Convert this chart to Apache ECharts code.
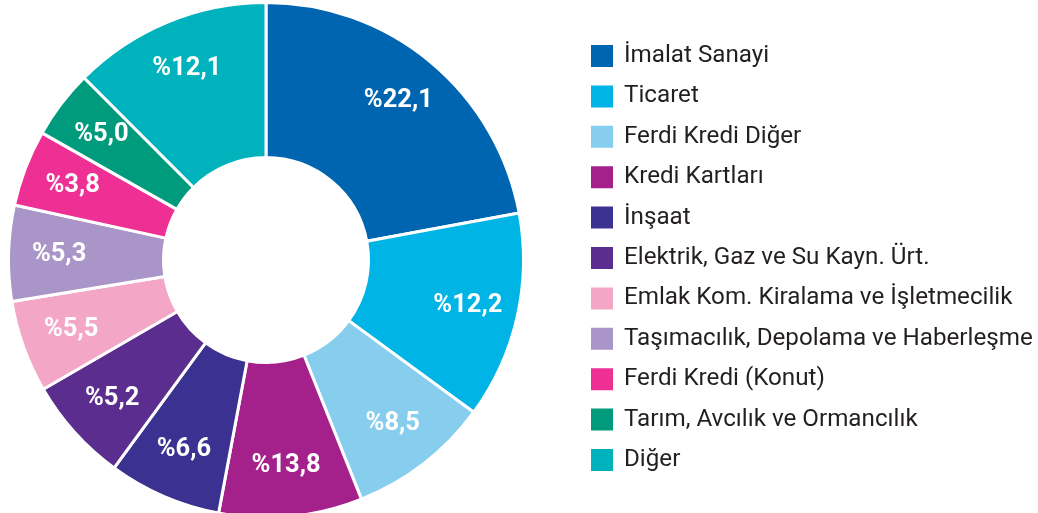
<!DOCTYPE html>
<html>
<head>
<meta charset="utf-8">
<script src="https://cdn.jsdelivr.net/npm/echarts@6/dist/echarts.min.js"></script>
<style>
html,body{margin:0;padding:0;background:#fff;}
#chart{width:1038px;height:513px;}
</style>
</head>
<body>
<div id="chart"></div>
<script>
// Sector names (legend order = drawing order, clockwise from 12 o'clock)
var categories = [
  'İmalat Sanayi',
  'Ticaret',
  'Ferdi Kredi Diğer',
  'Kredi Kartları',
  'İnşaat',
  'Elektrik, Gaz ve Su Kayn. Ürt.',
  'Emlak Kom. Kiralama ve İşletmecilik',
  'Taşımacılık, Depolama ve Haberleşme',
  'Ferdi Kredi (Konut)',
  'Tarım, Avcılık ve Ormancılık',
  'Diğer'
];
// Slice shares as drawn in the picture (percent)
var sliceShares = [22.1, 13.0, 8.9, 9.0, 7.1, 6.6, 5.8, 6.0, 4.8, 4.3, 12.5];
// Percent labels printed on the slices
var printedLabels = ['%22,1', '%12,2', '%8,5', '%13,8', '%6,6', '%5,2', '%5,5', '%5,3', '%3,8', '%5,0', '%12,1'];
var colors = ['#0065b0', '#00b4e6', '#86cdee', '#a4218c', '#3a3190', '#5b2d8e',
              '#f4a6c7', '#a995c7', '#ee2f93', '#009b7d', '#00b2bc'];

var pieData = categories.map(function (c, i) {
  return { name: c, value: sliceShares[i], itemStyle: { color: colors[i] } };
});
var labelData = categories.map(function (c, i) {
  return { name: c, value: sliceShares[i] };
});

var chart = echarts.init(document.getElementById('chart'), null, { renderer: 'canvas' });
chart.setOption({
  animation: false,
  backgroundColor: '#ffffff',
  legend: {
    data: categories,
    orient: 'vertical',
    left: 589,
    top: 43,
    padding: 0,
    itemWidth: 24,
    itemHeight: 24,
    itemGap: 14.4,
    icon: 'rect',
    selectedMode: false,
    textStyle: {
      fontFamily: 'Roboto',
      fontWeight: 'normal',
      fontSize: 24.2,
      color: '#231f20',
      padding: [0, 0, 0, 5]
    }
  },
  series: [
    {
      type: 'pie',
      center: [266, 260],
      radius: [102.5, 257.5],
      startAngle: 90,
      clockwise: true,
      silent: true,
      label: { show: false },
      labelLine: { show: false },
      itemStyle: { borderColor: '#ffffff', borderWidth: 3 },
      emphasis: { disabled: true },
      data: pieData
    },
    {
      type: 'pie',
      center: [266, 260],
      radius: [152, 256],
      startAngle: 90,
      clockwise: true,
      silent: true,
      legendHoverLink: false,
      itemStyle: { color: 'rgba(0,0,0,0)' },
      emphasis: { disabled: true },
      labelLine: { show: false },
      label: {
        show: true,
        position: 'inside',
        fontFamily: 'Roboto',
        fontWeight: 'bold',
        fontSize: 25.5,
        color: '#ffffff',
        formatter: function (p) { return printedLabels[p.dataIndex]; }
      },
      data: labelData
    }
  ]
});
</script>
</body>
</html>
